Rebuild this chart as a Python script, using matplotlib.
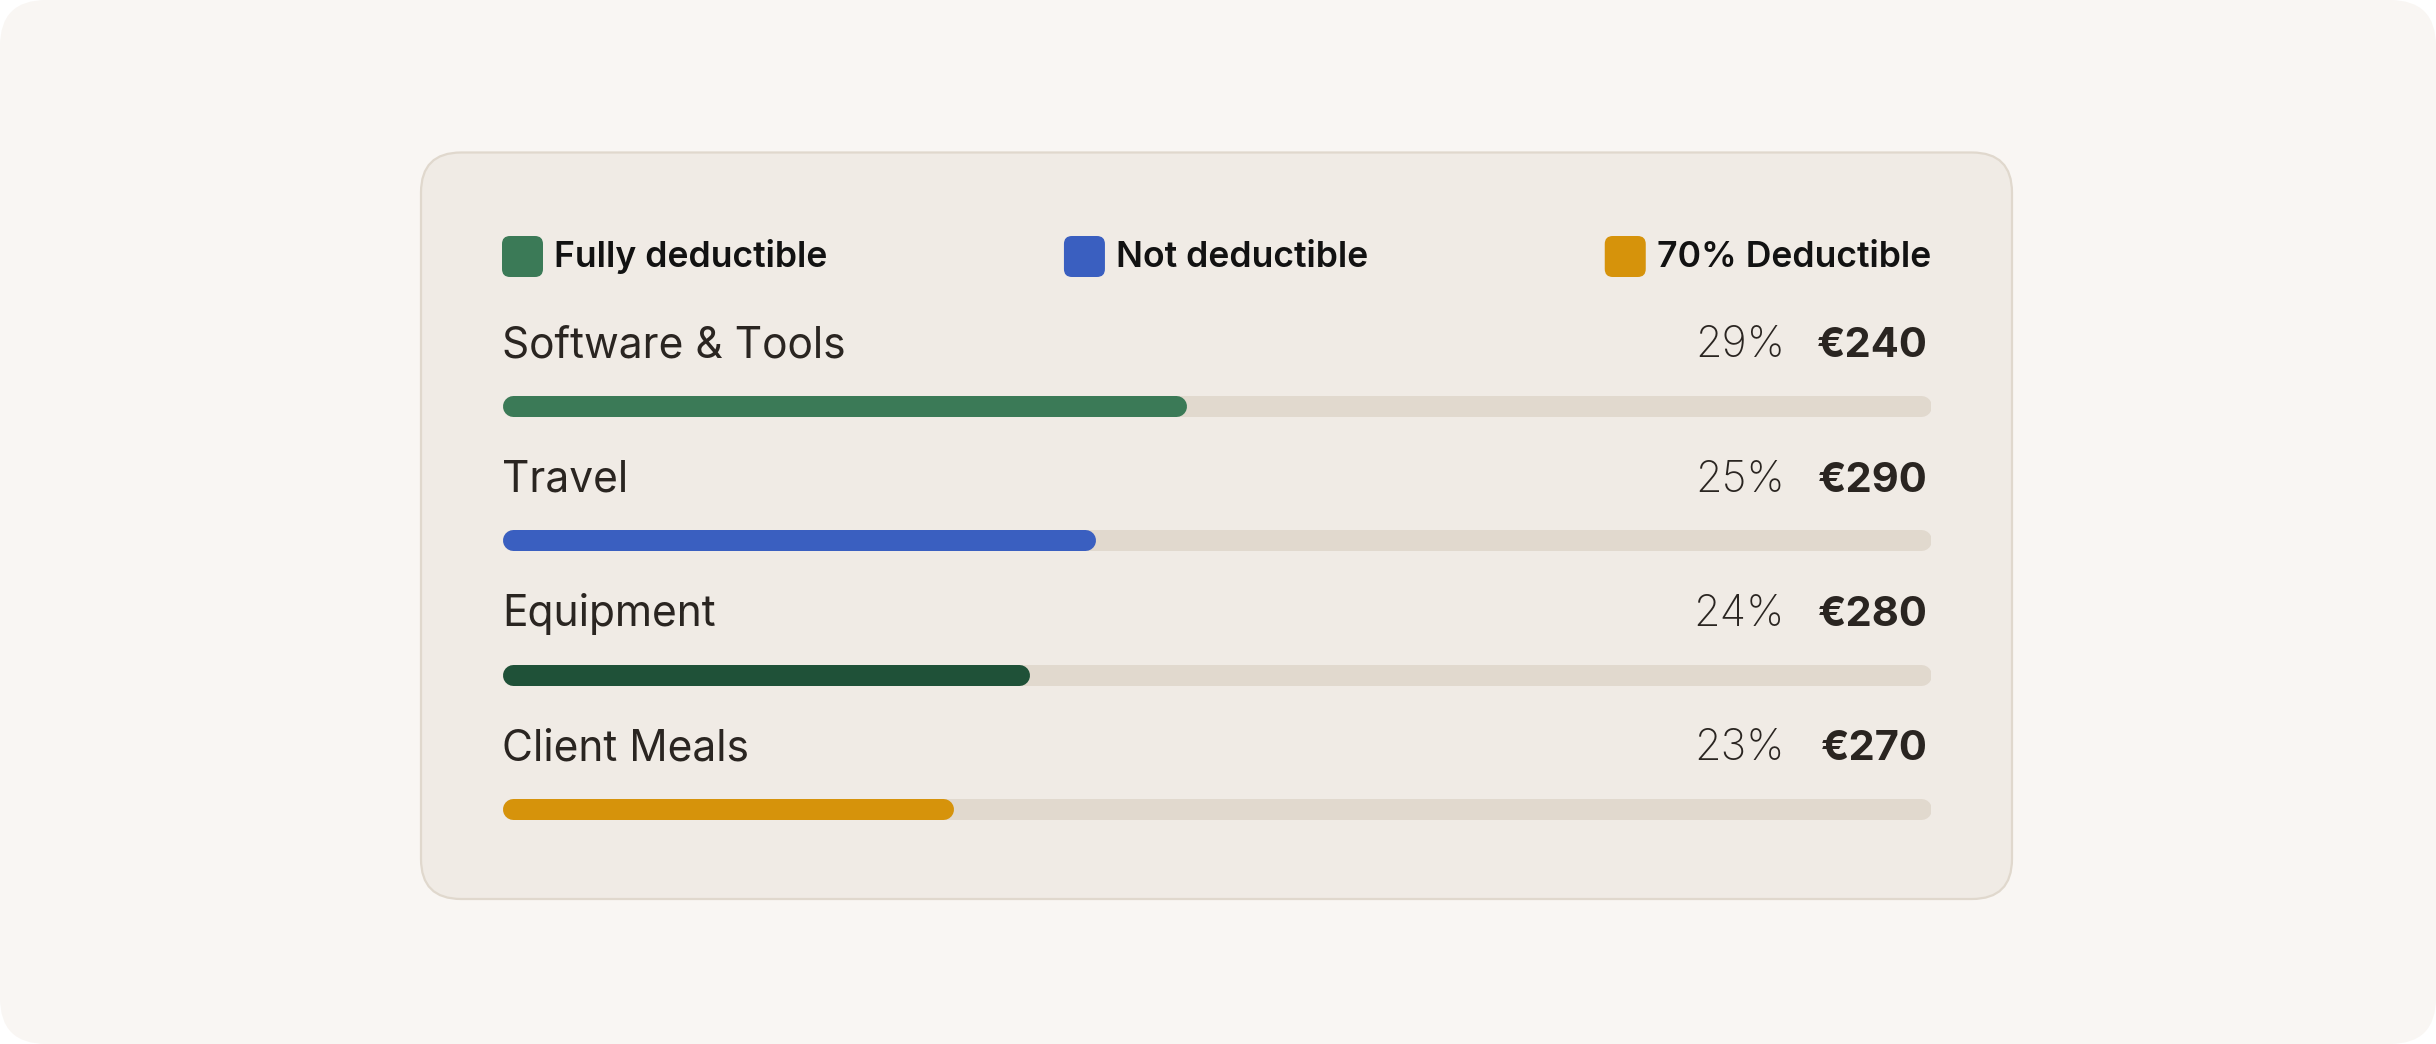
import matplotlib
matplotlib.use("Agg")
import matplotlib.pyplot as plt
from matplotlib.patches import FancyBboxPatch

# ---------------- data ----------------
categories = ["Software & Tools", "Travel", "Equipment", "Client Meals"]
fill_pct = [47.9, 41.5, 36.9, 31.6]          # bar fill length (% of track)
share_labels = ["29%", "25%", "24%", "23%"]
amount_labels = ["€240", "€290", "€280", "€270"]
bar_colors = ["#3B7A57", "#3A5FC0", "#1F5138", "#D6930B"]
legend_labels = ["Fully deductible", "Not deductible", "70% Deductible"]
legend_colors = ["#3B7A57", "#3A5FC0", "#D6930B"]

# ---------------- style ----------------
FONT = ["Inter", "DejaVu Sans"]
plt.rcParams["font.family"] = FONT
W, H, DPI = 2436, 1044, 100
BG = "#F9F6F3"
CARD = "#F0EBE5"
CARD_EDGE = "#E0D8CD"
TRACK = "#E1D9CE"
TEXT = "#2A2521"

fig = plt.figure(figsize=(W / DPI, H / DPI), dpi=DPI, facecolor="white")

# background / card layer in pixel coordinates
bg = fig.add_axes([0, 0, 1, 1])
bg.set_xlim(0, W)
bg.set_ylim(H, 0)
bg.axis("off")
bg.add_patch(FancyBboxPatch((0, 0), W, H, boxstyle="round,pad=0,rounding_size=46",
                            fc=BG, ec="none"))
bg.add_patch(FancyBboxPatch((421, 152.5), 1591, 746.5, boxstyle="round,pad=0,rounding_size=40",
                            fc=CARD, ec=CARD_EDGE, lw=1.6))

# legend (space-between layout across the track width)
track_left, track_right = 502, 1931
sq = 41
leg_fs = 25.6
renderer = fig.canvas.get_renderer()
widths = []
for lab in legend_labels:
    t = bg.text(0, 0, lab, fontsize=leg_fs, fontweight="semibold")
    bb = t.get_window_extent(renderer=renderer)
    widths.append(bb.width)
    t.remove()
gap_in = 11
group_w = [sq + gap_in + w for w in widths]
space = (track_right - track_left - sum(group_w)) / (len(group_w) - 1)
x = track_left
for lab, col, gw in zip(legend_labels, legend_colors, group_w):
    bg.add_patch(FancyBboxPatch((x, 236), sq, sq, boxstyle="round,pad=0,rounding_size=8",
                                fc=col, ec="none"))
    bg.text(x + sq + gap_in, 267, lab, fontsize=leg_fs, fontweight="semibold",
            color="#121212", va="baseline", ha="left")
    x += gw + space

# ---------------- bar rows ----------------
row_top, row_step = 405.5, 134.5
n = len(categories)
y_top_px = row_top - row_step / 2
y_bot_px = row_top + row_step * (n - 1) + row_step / 2
ax = fig.add_axes([track_left / W, 1 - y_bot_px / H,
                   (track_right - track_left) / W, (y_bot_px - y_top_px) / H])
ax.set_xlim(0, 100)
ax.set_ylim(n - 0.5, -0.5)
ax.axis("off")
ax.patch.set_alpha(0)

bar_h_px = 21
lw_pt = bar_h_px * 72 / DPI
r = (bar_h_px / 2) / (track_right - track_left) * 100   # cap radius in data units

for i, (cat, v, col, sh, am) in enumerate(zip(categories, fill_pct, bar_colors,
                                              share_labels, amount_labels)):
    ax.plot([r, 100 - r], [i, i], color=TRACK, lw=lw_pt, solid_capstyle="round",
            solid_joinstyle="round")
    ax.plot([r, v - r], [i, i], color=col, lw=lw_pt, solid_capstyle="round")
    ax.annotate(cat, xy=(0, i), xytext=(0, 48.5), textcoords="offset pixels",
                fontsize=30.6, color=TEXT, ha="left", va="baseline")
    ax.annotate(sh, xy=(100, i), xytext=(-146, 48.5), textcoords="offset pixels",
                fontsize=31, fontweight="light", color=TEXT, ha="right", va="baseline")
    ax.annotate(am, xy=(100, i), xytext=(-3, 48.5), textcoords="offset pixels",
                fontsize=30, fontweight="bold", color=TEXT, ha="right", va="baseline")

fig.savefig("out.png", dpi=DPI, facecolor="white")
